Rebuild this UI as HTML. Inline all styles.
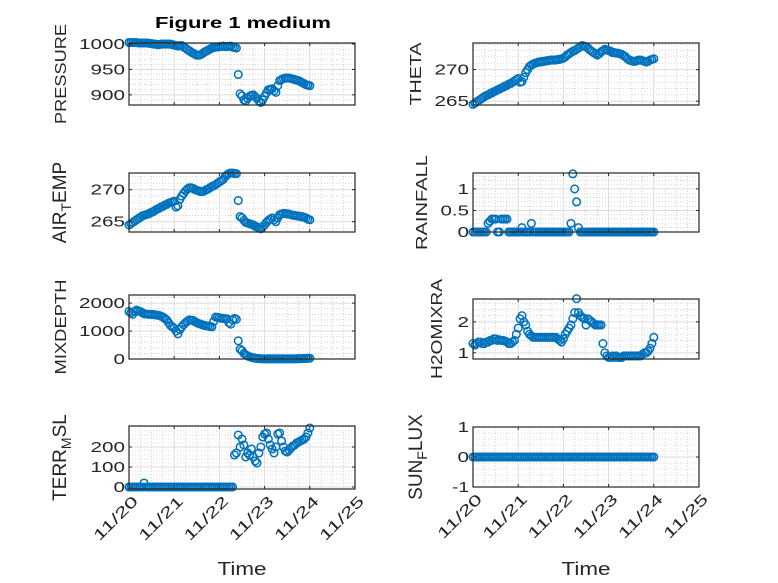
<!DOCTYPE html>
<html><head><meta charset="utf-8"><style>
body{margin:0;background:#fff}
svg{display:block;font-family:"Liberation Sans",sans-serif}
</style></head><body>
<svg id="fig" width="778" height="583" viewBox="0 0 778 583" xmlns="http://www.w3.org/2000/svg">
<rect width="778" height="583" fill="#fff"/>
<text x="243" y="28" text-anchor="middle" font-size="16" font-weight="bold" fill="#000" textLength="176" lengthAdjust="spacingAndGlyphs">Figure 1 medium</text>
</svg>
<script>
const dayTicks = ["11/20","11/21","11/22","11/23","11/24","11/25"];
const hours = [0,1,2,3,4,5,6,7,8,9,10,11,12,13,14,15,16,17,18,19,20,21,22,23,24,25,26,27,28,29,30,31,32,33,34,35,36,37,38,39,40,41,42,43,44,45,46,47,48,49,50,51,52,53,54,55,56,57,58,59,60,61,62,63,64,65,66,67,68,69,70,71,72,73,74,75,76,77,78,79,80,81,82,83,84,85,86,87,88,89,90,91,92,93,94,95,96];
const pressure = [1003,1003,1003,1003,1003,1002,1002,1002,1002,1002,
1002,1001,1001,1000,1000,999,999,1000,1000,1000,
1000,1000,1000,999,998,997,996,997,997,994,
992,989,987,984,982,980,978,978,979,981,
984,986,988,990,992,993,994,994,995,995,
996,995,995,995,996,994,993,992,940,902,
898,890,888,893,897,899,900,896,893,888,
885,890,897,904,910,911,912,908,905,918,
928,930,932,933,933,933,932,931,930,929,
928,926,924,922,920,919,918];
const airTemp = [264.5,264.7,264.9,265.1,265.3,265.5,265.7,265.9,266,266.1,
266.2,266.3,266.5,266.6,266.8,267,267.1,267.3,267.4,267.6,
267.7,267.9,268,268.1,268.2,267.3,267.5,268.5,269,269.4,
269.8,270.1,270.3,270.3,270.2,270,269.9,269.8,269.7,269.7,
269.8,270,270.1,270.3,270.5,270.6,270.8,271,271.2,271.4,
271.6,272,272.3,272.5,272.6,272.6,272.5,272.5,268.3,265.8,
265.6,265.2,264.9,264.8,264.7,264.6,264.5,264.3,264.2,264,
263.9,264.2,264.5,264.9,265.2,265.4,265.6,265.3,265,265.6,
266.1,266.2,266.3,266.3,266.2,266.2,266.1,266,266,265.9,
265.9,265.8,265.8,265.7,265.6,265.4,265.3];
const mixDepth = [1700,1650,1600,1700,1750,1720,1700,1660,1620,1610,
1600,1600,1600,1590,1580,1570,1560,1530,1500,1450,
1400,1300,1200,1150,1100,1000,900,1050,1150,1230,
1300,1350,1400,1390,1380,1340,1300,1270,1250,1220,
1200,1190,1180,1160,1150,1350,1500,1490,1480,1460,
1450,1445,1440,1300,1250,1400,1450,1420,650,350,
300,200,150,110,80,60,40,30,20,15,
10,8,5,5,5,5,5,5,5,5,
5,5,5,5,5,5,5,5,8,10,
10,12,15,18,20,25,30];
const terrMsl = [0,0,0,0,0,0,0,0,20,0,
0,0,0,0,0,0,0,0,0,0,
0,0,0,0,0,0,0,0,0,0,
0,0,0,0,0,0,0,0,0,0,
0,0,0,0,0,0,0,0,0,0,
0,0,0,0,0,0,160,170,260,200,
240,210,150,170,160,190,150,130,120,170,
200,250,265,270,240,210,190,170,200,265,
270,230,200,180,175,185,195,205,210,220,
225,230,235,240,250,270,295];
const theta = [264.5,264.7,264.9,265.1,265.3,265.5,265.7,265.9,266,266.2,
266.3,266.5,266.6,266.8,266.9,267.1,267.2,267.4,267.5,267.7,
267.8,268,268.2,268.4,268.6,268,268.1,268.8,269.5,270,
270.5,270.7,270.9,271,271.1,271.2,271.2,271.3,271.3,271.4,
271.4,271.5,271.5,271.5,271.5,271.6,271.6,271.7,271.8,272,
272.3,272.5,272.7,272.9,273,273.2,273.4,273.6,273.8,273.7,
273.6,273.4,273.1,272.9,272.7,272.5,272.3,272.5,272.8,273,
273.2,273.1,273,272.9,272.7,272.7,272.6,272.6,272.5,272.4,
272.2,272,271.7,271.5,271.4,271.3,271.3,271.4,271.5,271.5,
271.4,271.3,271.2,271.3,271.5,271.6,271.7];
const rainfall = [0,0,0,0,0,0,0,0,0.2,0.25,
0.3,0.3,0.3,0,0,0.3,0.3,0.3,0.3,0,
0,0,0,0,0,0,0.1,0,0,0,
0,0.2,0,0,0,0,0,0,0,0,
0,0,0,0,0,0,0,0,0,0,
0,0,0.2,1.35,1.0,0.7,0.1,0,0,0,
0,0,0,0,0,0,0,0,0,0,
0,0,0,0,0,0,0,0,0,0,
0,0,0,0,0,0,0,0,0,0,
0,0,0,0,0,0,0];
const h2oMix = [1.3,1.25,1.3,1.35,1.35,1.3,1.3,1.35,1.35,1.4,
1.4,1.45,1.45,1.4,1.42,1.4,1.4,1.38,1.35,1.3,
1.3,1.35,1.4,1.6,1.8,2.1,2.2,2.0,1.9,1.7,
1.6,1.55,1.5,1.5,1.5,1.5,1.5,1.5,1.5,1.5,
1.5,1.5,1.5,1.5,1.5,1.45,1.4,1.35,1.45,1.6,
1.7,1.8,1.9,2.1,2.3,2.75,2.3,2.2,2.15,2.1,
1.9,2.1,2.05,2.0,1.95,1.9,1.9,1.9,1.9,1.3,
1.0,0.9,0.85,0.85,0.9,0.85,0.9,0.85,0.85,0.85,
0.9,0.9,0.9,0.9,0.9,0.9,0.9,0.9,0.9,0.9,
0.95,1.0,1.0,1.05,1.15,1.3,1.5];
const sunFlux = [0,0,0,0,0,0,0,0,0,0,
0,0,0,0,0,0,0,0,0,0,
0,0,0,0,0,0,0,0,0,0,
0,0,0,0,0,0,0,0,0,0,
0,0,0,0,0,0,0,0,0,0,
0,0,0,0,0,0,0,0,0,0,
0,0,0,0,0,0,0,0,0,0,
0,0,0,0,0,0,0,0,0,0,
0,0,0,0,0,0,0,0,0,0,
0,0,0,0,0,0,0];

const NS="http://www.w3.org/2000/svg";
const svg=document.getElementById('fig');
function mk(tag,attrs,parent){const e=document.createElementNS(NS,tag);for(const k in attrs)e.setAttribute(k,attrs[k]);(parent||svg).appendChild(e);return e;}
function tw(s){let w=0;for(const ch of s)w+=(/[0-9]/.test(ch)?11.5:5.5);return w;}

const panels=[
 {name:"pressure",data:pressure,x0:129,y0:43,y1:105,ymin:880,ymax:1002,ticks:[900,950,1000],minor:10,label:["PRESSURE"],lc:60,len:100},
 {name:"theta",data:theta,x0:473,y0:43,y1:105,ymin:264.4,ymax:274.2,ticks:[265,270],minor:1,label:["THETA"],lc:415,len:63},
 {name:"air-temp",data:airTemp,x0:129,y0:173,y1:232,ymin:263.4,ymax:272.6,ticks:[265,270],minor:1,label:["AIR","T","EMP"],lc:60},
 {name:"rainfall",data:rainfall,x0:473,y0:173,y1:232,ymin:0,ymax:1.37,ticks:[0,0.5,1],minor:0.1,label:["RAINFALL"],lc:421,len:95},
 {name:"mixdepth",data:mixDepth,x0:129,y0:295,y1:359,ymin:0,ymax:2290,ticks:[0,1000,2000],minor:200,label:["MIXDEPTH"],lc:60,len:95},
 {name:"h2omixra",data:h2oMix,x0:473,y0:299,y1:359,ymin:0.8,ymax:2.74,ticks:[1,2],minor:0.2,label:["H2OMIXRA"],lc:436,len:100},
 {name:"terr-msl",data:terrMsl,x0:129,y0:426,y1:489,ymin:-10,ymax:305,ticks:[0,100,200],minor:20,label:["TERR","M","SL"],bottom:true,lc:60},
 {name:"sun-flux",data:sunFlux,x0:473,y0:427,y1:487,ymin:-1,ymax:1,ticks:[-1,0,1],minor:0.2,label:["SUN","F","LUX"],bottom:true,lc:416}
];
const W=226;
panels.forEach(p=>{
 const g=mk('g',{});
 
 
 const xs=h=>p.x0+h/120*W;
 const ys=v=>p.y1-(v-p.ymin)/(p.ymax-p.ymin)*(p.y1-p.y0);
 mk('rect',{x:p.x0,y:p.y0,width:W,height:p.y1-p.y0,fill:'#fff'},g);
 for(let h=6;h<120;h+=6){if(h%24==0)continue;mk('line',{x1:xs(h),x2:xs(h),y1:p.y0,y2:p.y1,stroke:'#bbb','stroke-width':0.6,'stroke-dasharray':'1,2'},g);}
 const st=Math.ceil(p.ymin/p.minor-1e-9);
 for(let k=st;k*p.minor<=p.ymax+1e-9;k++){const v=k*p.minor;if(p.ticks.some(t=>Math.abs(t-v)<1e-6))continue;mk('line',{x1:p.x0,x2:p.x0+W,y1:ys(v),y2:ys(v),stroke:'#bbb','stroke-width':0.6,'stroke-dasharray':'1,2'},g);}
 for(let d=1;d<5;d++)mk('line',{x1:xs(d*24),x2:xs(d*24),y1:p.y0,y2:p.y1,stroke:'#dcdcdc','stroke-width':1},g);
 p.ticks.forEach(t=>mk('line',{x1:p.x0,x2:p.x0+W,y1:ys(t),y2:ys(t),stroke:'#dcdcdc','stroke-width':1},g));
 const dg=mk('g',{},g);
 
 
 p.data.forEach((v,i)=>{const c=mk('circle',{cx:xs(hours[i]),cy:ys(v),r:3.8,fill:'none',stroke:'#0072BD','stroke-width':1.5},dg);
  
  });
 mk('rect',{x:p.x0,y:p.y0,width:W,height:p.y1-p.y0,fill:'none',stroke:'#262626','stroke-width':1.2},g);
 for(let d=0;d<=5;d++){const x=xs(d*24);mk('line',{x1:x,x2:x,y1:p.y1,y2:p.y1-3,stroke:'#262626'},g);mk('line',{x1:x,x2:x,y1:p.y0,y2:p.y0+3,stroke:'#262626'},g);
  if(p.bottom){const ax=x+10, ay=p.y1+13;const t=mk('text',{x:ax,y:ay,'text-anchor':'end','font-size':15,fill:'#262626',textLength:56,lengthAdjust:'spacingAndGlyphs',transform:`rotate(-45 ${ax} ${ay})`},g);t.textContent=dayTicks[d];
   
   }}
 p.ticks.forEach(v=>{const y=ys(v);mk('line',{x1:p.x0,x2:p.x0+3,y1:y,y2:y,stroke:'#262626'},g);mk('line',{x1:p.x0+W,x2:p.x0+W-3,y1:y,y2:y,stroke:'#262626'},g);
  const s=String(v);
  const t=mk('text',{x:p.x0-4,y:y+5,'text-anchor':'end','font-size':15,fill:'#262626',textLength:tw(s),lengthAdjust:'spacingAndGlyphs'},g);t.textContent=s;
  
  });
 const cy=(p.y0+p.y1)/2, lx=p.lc+6;
 const la={x:lx,y:cy,'text-anchor':'middle','font-size':16,fill:'#262626',transform:`rotate(-90 ${lx} ${cy})`};
 if(p.len){la.textLength=p.len;la.lengthAdjust='spacingAndGlyphs';}
 const lab=mk('text',la,g);
 
 
 if(p.label.length==1)lab.textContent=p.label[0];
 else{lab.setAttribute('font-size',19);mk('tspan',{},lab).textContent=p.label[0];mk('tspan',{'font-size':14,dy:5},lab).textContent=p.label[1];mk('tspan',{dy:-5},lab).textContent=p.label[2];}
 if(p.bottom){const t=mk('text',{x:p.x0+W/2,y:575,'text-anchor':'middle','font-size':18,fill:'#262626',textLength:49,lengthAdjust:'spacingAndGlyphs'},g);t.textContent='Time';
  
  }
});
</script>
</body></html>
